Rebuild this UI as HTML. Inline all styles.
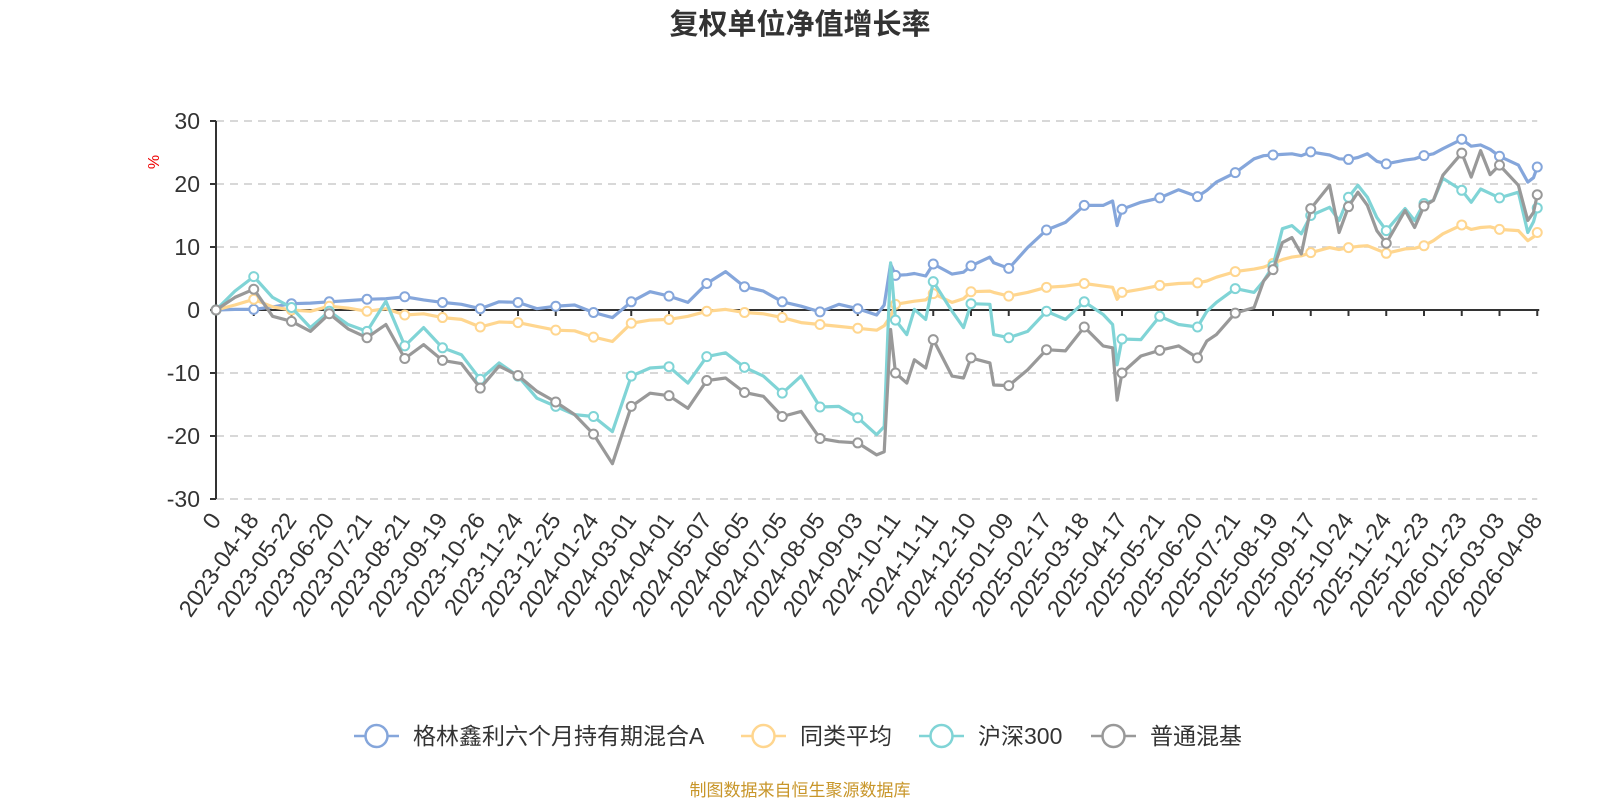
<!DOCTYPE html>
<html><head><meta charset="utf-8"><style>
html,body{margin:0;padding:0;background:#fff;}
svg{display:block;}
text{font-family:"Liberation Sans","Noto Sans CJK SC",sans-serif;}
</style></head><body>
<svg id="chart" width="1600" height="800" viewBox="0 0 1600 800" xmlns="http://www.w3.org/2000/svg">
<text x="800" y="34" text-anchor="middle" font-size="29" font-weight="bold" fill="#333">复权单位净值增长率</text>
<text x="159" y="162" font-size="16" fill="#e00" text-anchor="middle" transform="rotate(-90 159 162)">%</text>
<g id="grid"></g><g id="axes"></g><g id="series"></g>
<g id="legend"></g>
<text x="800" y="796" text-anchor="middle" font-size="17" fill="#c8962a">制图数据来自恒生聚源数据库</text>
</svg>
<script>
const xLabels=["0","2023-04-18","2023-05-22","2023-06-20","2023-07-21","2023-08-21","2023-09-19","2023-10-26","2023-11-24","2023-12-25","2024-01-24","2024-03-01","2024-04-01","2024-05-07","2024-06-05","2024-07-05","2024-08-05","2024-09-03","2024-10-11","2024-11-11","2024-12-10","2025-01-09","2025-02-17","2025-03-18","2025-04-17","2025-05-21","2025-06-20","2025-07-21","2025-08-19","2025-09-17","2025-10-24","2025-11-24","2025-12-23","2026-01-23","2026-03-03","2026-04-08"];
const yTicks=[30,20,10,0,-10,-20,-30];
const tPos=[0,0.5,1,1.5,2,2.5,3,3.5,4,4.5,5,5.5,6,6.5,7,7.5,8,8.5,9,9.5,10,10.5,11,11.5,12,12.5,13,13.5,14,14.5,15,15.5,16,16.5,17,17.5,17.7,17.87,18,18.3,18.5,18.8,19,19.5,19.8,20,20.5,20.6,21,21.5,22,22.5,23,23.5,23.75,23.87,24,24.5,25,25.5,26,26.25,26.5,27,27.5,27.75,28,28.25,28.5,28.75,29,29.5,29.75,30,30.25,30.5,30.75,31,31.5,31.75,32,32.25,32.5,33,33.25,33.5,33.75,34,34.5,34.75,34.9,35];
const fundValues=[0,0.1,0.1,0.5,1.0,1.1,1.3,1.5,1.7,1.8,2.1,1.6,1.2,0.9,0.2,1.3,1.2,0.2,0.6,0.8,-0.4,-1.2,1.3,2.9,2.2,1.2,4.2,6.1,3.7,3.0,1.3,0.6,-0.3,0.9,0.2,-0.8,0.8,7.3,5.5,5.6,5.8,5.4,7.3,5.7,6.0,7.0,8.4,7.5,6.6,9.9,12.7,13.9,16.6,16.6,17.3,13.4,16.0,17.1,17.8,19.1,18.0,19.0,20.3,21.8,24.0,24.5,24.6,24.7,24.8,24.5,25.1,24.6,24.0,23.9,24.2,24.8,23.6,23.2,23.8,24.0,24.5,24.8,25.6,27.1,26.0,26.2,25.5,24.4,23.0,20.3,21.0,22.7];
const peerValues=[0,0.8,1.7,0.5,0.0,-0.2,0.6,0.3,-0.2,0.2,-0.8,-0.6,-1.2,-1.5,-2.7,-1.9,-2.0,-2.6,-3.2,-3.3,-4.3,-5.0,-2.1,-1.6,-1.5,-1.0,-0.2,0.1,-0.4,-0.6,-1.2,-2.0,-2.3,-2.6,-2.9,-3.2,-2.5,-1.0,0.9,1.2,1.4,1.6,2.6,1.2,1.8,2.9,3.0,2.8,2.2,2.8,3.6,3.8,4.2,3.8,3.6,1.7,2.8,3.3,3.9,4.2,4.3,4.6,5.2,6.1,6.5,6.8,7.4,8.0,8.4,8.6,9.1,9.9,9.6,9.9,10.1,10.2,9.6,9.0,9.7,9.8,10.2,11.0,12.1,13.5,12.8,13.1,13.2,12.8,12.6,11.0,11.6,12.3];
const hs300Values=[0,3.0,5.3,2.0,0.4,-2.8,-0.2,-2.3,-3.4,1.4,-5.7,-2.8,-6.0,-7.1,-11,-8.4,-10.5,-14,-15.3,-16.6,-16.9,-19.3,-10.5,-9.2,-9.0,-11.6,-7.4,-6.8,-9.1,-10.5,-13.2,-10.5,-15.4,-15.3,-17.1,-19.8,-18.5,7.5,-1.6,-3.9,0.1,-1.5,4.5,-0.2,-2.8,1.0,0.9,-3.9,-4.4,-3.4,-0.2,-1.5,1.3,-0.7,-2.3,-8.7,-4.6,-4.7,-1.0,-2.3,-2.7,-0.2,1.2,3.4,2.8,4.6,7.0,12.9,13.4,12.1,15.0,16.3,14.2,17.9,19.8,17.9,14.7,12.6,16.1,14.2,16.9,17.4,20.9,19.0,17.1,19.2,18.5,17.8,18.7,12.3,14.0,16.2];
const mixedValues=[0,2,3.3,-1,-1.8,-3.4,-0.6,-3,-4.4,-2.3,-7.7,-5.5,-8,-8.5,-12.4,-8.9,-10.4,-12.9,-14.6,-16.6,-19.7,-24.4,-15.3,-13.2,-13.6,-15.6,-11.2,-10.8,-13.1,-13.7,-16.9,-16.1,-20.4,-20.9,-21.1,-23.0,-22.5,-3.1,-10,-11.6,-7.9,-9.2,-4.7,-10.5,-10.8,-7.6,-8.4,-11.9,-12,-9.5,-6.3,-6.5,-2.7,-5.7,-6.0,-14.3,-10.0,-7.3,-6.4,-5.7,-7.6,-4.9,-3.9,-0.5,0.4,4.6,6.4,10.7,11.5,8.9,16.1,19.8,12.3,16.4,18.7,16.6,12.6,10.6,15.8,13.1,16.5,17.4,21.4,24.9,21.1,25.3,21.5,23.0,19.8,14.2,15.5,18.3];
const seriesNames=["格林鑫利六个月持有期混合A","同类平均","沪深300","普通混基"];
const seriesColors=["#85a6db","#ffd68f","#80d4d6","#999999"];
const seriesData=[fundValues,peerValues,hs300Values,mixedValues];

const NS="http://www.w3.org/2000/svg";
const X0=216,DX=37.75,Y0=310,KY=6.3;
function xScale(t){return X0+t*DX;}
function yScale(v){return Y0-v*KY;}
function mk(tag,attrs,parent){const e=document.createElementNS(NS,tag);for(const k in attrs)e.setAttribute(k,attrs[k]);parent.appendChild(e);return e;}
const grid=document.getElementById('grid'),axes=document.getElementById('axes'),sg=document.getElementById('series'),lg=document.getElementById('legend');
const xEnd=xScale(xLabels.length-1);
yTicks.forEach(v=>{
  if(v!==0){const l=mk('line',{x1:X0,x2:xEnd,y1:yScale(v),y2:yScale(v),stroke:'#ccc','stroke-width':1.5,'stroke-dasharray':'8 6'},grid);
  
  }
  const tk=mk('line',{x1:X0-6,x2:X0,y1:yScale(v),y2:yScale(v),stroke:'#333','stroke-width':2},axes);
  
  
  const tx=mk('text',{x:X0-16,y:yScale(v)+8,'text-anchor':'end','font-size':23,fill:'#333'},axes);
  tx.textContent=v;
  
  
});
const ya=mk('line',{x1:X0,x2:X0,y1:yScale(30),y2:yScale(-30),stroke:'#333','stroke-width':2},axes);


const xa=mk('line',{x1:X0,x2:xEnd+2,y1:Y0,y2:Y0,stroke:'#333','stroke-width':2},axes);


xLabels.forEach((lab,i)=>{
  const x=xScale(i);
  if(i>0){const tk=mk('line',{x1:x,x2:x,y1:Y0,y2:Y0+6,stroke:'#333','stroke-width':2},axes);
  
  }
  const tx=mk('text',{x:x+6,y:520,'text-anchor':'end','font-size':23.5,fill:'#333',transform:`rotate(-55 ${x+6} 520)`},axes);
  tx.textContent=lab;
  
  
});
seriesData.forEach((vals,s)=>{
  const g=mk('g',{},sg);
  
  
  const d=vals.map((v,i)=>(i?'L':'M')+xScale(tPos[i]).toFixed(1)+' '+yScale(v).toFixed(1)).join(' ');
  const p=mk('path',{d:d,fill:'none',stroke:seriesColors[s],'stroke-width':3.2,'stroke-linejoin':'round'},g);
  
  
  vals.forEach((v,i)=>{
    if(Number.isInteger(tPos[i])){
      const c=mk('circle',{cx:xScale(tPos[i]),cy:yScale(v),r:4.5,fill:'#fff',stroke:seriesColors[s],'stroke-width':2},g);
      
      
    }
  });
});
const legendX=[354,741,919,1091];
seriesNames.forEach((n,s)=>{
  const g=mk('g',{},lg);
  
  
  const x=legendX[s];
  mk('line',{x1:x,x2:x+45,y1:736,y2:736,stroke:seriesColors[s],'stroke-width':2.5},g);
  mk('circle',{cx:x+22.5,cy:736,r:11,fill:'#fff',stroke:seriesColors[s],'stroke-width':2.5},g);
  const t=mk('text',{x:x+59,y:744,'font-size':23,fill:'#333'},g);
  t.textContent=n;
});
</script>
</body></html>
